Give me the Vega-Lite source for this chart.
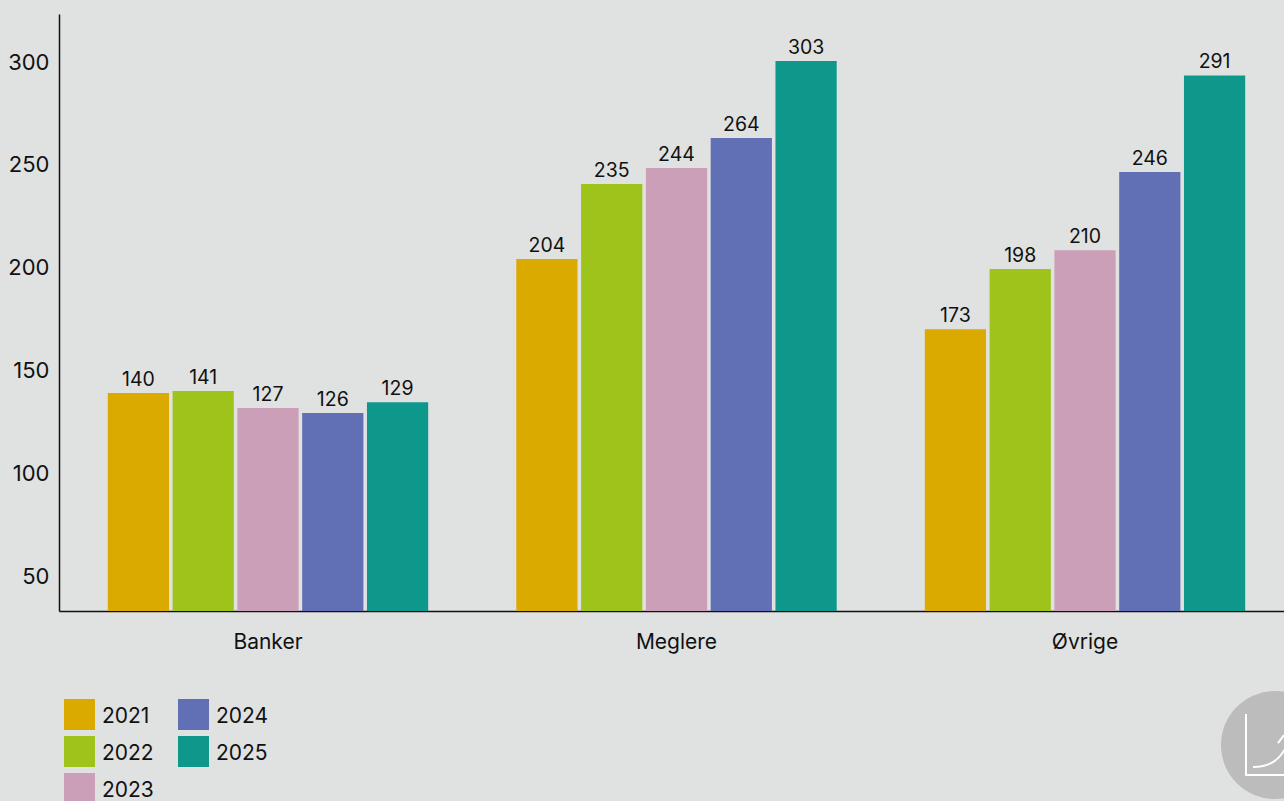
{
  "$schema": "https://vega.github.io/schema/vega-lite/v6.json",
  "width": 1235,
  "height": 597,
  "autosize": {"type": "none"},
  "padding": {"left": 59, "top": 14, "right": 0, "bottom": 190},
  "background": "#e0e2e1",
  "config": {"view": {"stroke": null}, "font": "Inter"},
  "layer": [
    {
      "data": {"values": [
        {"g":"Banker","year":"2021","v":138.5,"label":"140"},
        {"g":"Banker","year":"2022","v":139.5,"label":"141"},
        {"g":"Banker","year":"2023","v":131.2,"label":"127"},
        {"g":"Banker","year":"2024","v":128.8,"label":"126"},
        {"g":"Banker","year":"2025","v":134.1,"label":"129"},
        {"g":"Meglere","year":"2021","v":203.7,"label":"204"},
        {"g":"Meglere","year":"2022","v":240.2,"label":"235"},
        {"g":"Meglere","year":"2023","v":248,"label":"244"},
        {"g":"Meglere","year":"2024","v":262.6,"label":"264"},
        {"g":"Meglere","year":"2025","v":300,"label":"303"},
        {"g":"Øvrige","year":"2021","v":169.6,"label":"173"},
        {"g":"Øvrige","year":"2022","v":198.8,"label":"198"},
        {"g":"Øvrige","year":"2023","v":208,"label":"210"},
        {"g":"Øvrige","year":"2024","v":246,"label":"246"},
        {"g":"Øvrige","year":"2025","v":293,"label":"291"}
      ]},
      "encoding": {
        "x": {"field": "g", "type": "nominal", "sort": null, "title": null,
          "scale": {"paddingInner": 0, "paddingOuter": 0.0116},
          "axis": {"labelAngle": 0, "ticks": false, "domainColor": "#111111", "domainWidth": 1.5, "labelFontSize": 21, "labelColor": "#111111", "labelPadding": 20, "grid": false}},
        "xOffset": {"field": "year", "type": "nominal", "scale": {"paddingInner": 0.055, "paddingOuter": 0.68}},
        "y": {"field": "v", "type": "quantitative", "title": null,
          "scale": {"domain": [32.5, 322.9], "zero": false, "nice": false},
          "axis": {"values": [50,100,150,200,250,300], "ticks": false, "grid": false, "domainColor": "#111111", "domainWidth": 1.5, "labelFontSize": 22, "labelColor": "#111111", "labelPadding": 10, "labelOffset": 1}}
      },
      "layer": [
        {
          "mark": {"type": "bar"},
          "encoding": {
            "y2": {"datum": 32.5},
            "color": {"field": "year", "type": "nominal", "title": null,
              "scale": {"domain": ["2021","2022","2023","2024","2025"], "range": ["#daaa00","#9ec41b","#cc9fb8","#6170b4","#0e978b"]},
              "legend": {"orient": "none", "legendX": 5, "legendY": 685, "direction": "vertical", "columns": 2, "symbolType": "square", "symbolSize": 961, "symbolStrokeWidth": 0, "symbolOpacity": 1, "labelFontSize": 21, "labelColor": "#111111", "labelOffset": 7, "rowPadding": 6, "columnPadding": 24, "clipHeight": 31, "encode": {"labels": {"update": {"dy": {"value": 2}}}}}}
          }
        },
        {
          "mark": {"type": "text", "baseline": "bottom", "dy": -3, "fontSize": 19.5, "color": "#111111"},
          "encoding": {"text": {"field": "label", "type": "nominal"}}
        }
      ]
    },
    {
      "data": {"values": [{"px": 0.9846, "py": -32.7}]},
      "encoding": {
        "x": {"field": "px", "type": "quantitative", "scale": {"domain": [0, 1]}, "axis": null},
        "y": {"field": "py", "type": "quantitative"}
      },
      "layer": [
        {"mark": {"type": "point", "shape": "circle", "filled": true, "size": 11664, "color": "#bcbcbc", "opacity": 1, "clip": false}},
        {"mark": {"type": "point", "filled": false, "size": 40000, "color": "#ffffff", "strokeWidth": 2, "opacity": 1, "clip": false,
          "shape": "M -0.29 -0.31 L -0.29 0.30 L 0.6 0.30 M -0.22 0.22 C -0.05 0.22 0.05 0.15 0.12 0 M 0.03 -0.02 L 0.09 -0.1"}}
      ]
    }
  ],
  "resolve": {"scale": {"x": "independent"}, "axis": {"x": "independent"}}
}
